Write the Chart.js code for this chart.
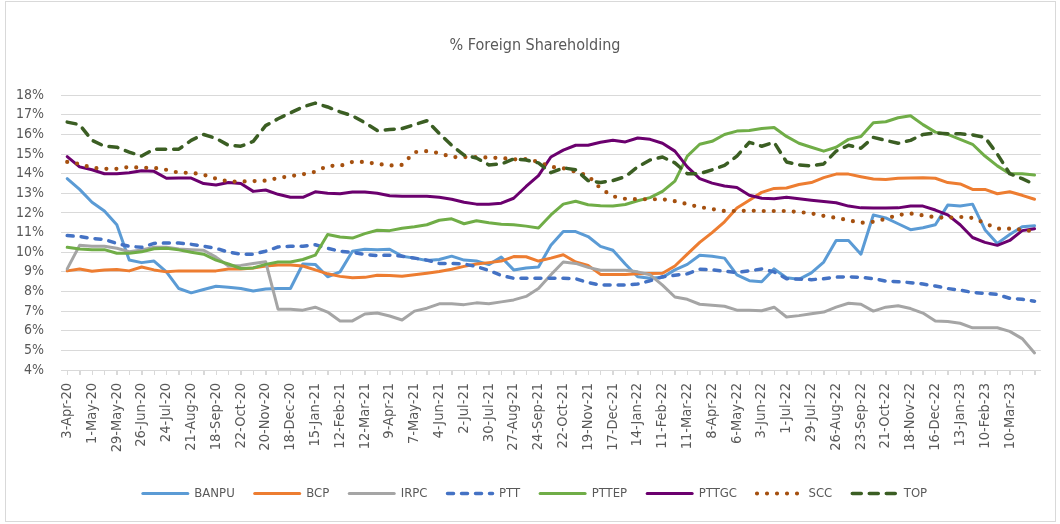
<!DOCTYPE html>
<html>
<head>
<meta charset="utf-8">
<title>% Foreign Shareholding</title>
<script src="https://cdn.jsdelivr.net/npm/chart.js@4.4.1/dist/chart.umd.min.js"></script>
<style>
    html, body { margin: 0; padding: 0; background: #ffffff; }
    #wrap { position: relative; width: 1060px; height: 524px; }
</style>
</head>
<body>
<div id="wrap"><canvas id="holdingchart" width="1060" height="524"></canvas></div>
<script>
"use strict";

/* fortnightly dates, every second one is shown on the axis */
var dates = [
    '3-Apr-20', '17-Apr-20', '1-May-20', '15-May-20', '29-May-20', '12-Jun-20', '26-Jun-20', '10-Jul-20',
    '24-Jul-20', '7-Aug-20', '21-Aug-20', '4-Sep-20', '18-Sep-20', '2-Oct-20', '22-Oct-20', '6-Nov-20',
    '20-Nov-20', '4-Dec-20', '18-Dec-20', '1-Jan-21', '15-Jan-21', '29-Jan-21', '12-Feb-21', '26-Feb-21',
    '12-Mar-21', '26-Mar-21', '9-Apr-21', '23-Apr-21', '7-May-21', '21-May-21', '4-Jun-21', '18-Jun-21',
    '2-Jul-21', '16-Jul-21', '30-Jul-21', '13-Aug-21', '27-Aug-21', '10-Sep-21', '24-Sep-21', '8-Oct-21',
    '22-Oct-21', '5-Nov-21', '19-Nov-21', '3-Dec-21', '17-Dec-21', '31-Dec-21', '14-Jan-22', '28-Jan-22',
    '11-Feb-22', '25-Feb-22', '11-Mar-22', '25-Mar-22', '8-Apr-22', '22-Apr-22', '6-May-22', '20-May-22',
    '3-Jun-22', '17-Jun-22', '1-Jul-22', '15-Jul-22', '29-Jul-22', '12-Aug-22', '26-Aug-22', '9-Sep-22',
    '23-Sep-22', '7-Oct-22', '21-Oct-22', '4-Nov-22', '18-Nov-22', '2-Dec-22', '16-Dec-22', '30-Dec-22',
    '13-Jan-23', '27-Jan-23', '10-Feb-23', '24-Feb-23', '10-Mar-23', '24-Mar-23', '7-Apr-23'
];

var tickLabels = [
    '3-Apr-20', '1-May-20', '29-May-20', '26-Jun-20', '24-Jul-20', '21-Aug-20', '18-Sep-20', '22-Oct-20',
    '20-Nov-20', '18-Dec-20', '15-Jan-21', '12-Feb-21', '12-Mar-21', '9-Apr-21', '7-May-21', '4-Jun-21',
    '2-Jul-21', '30-Jul-21', '27-Aug-21', '24-Sep-21', '22-Oct-21', '19-Nov-21', '17-Dec-21', '14-Jan-22',
    '11-Feb-22', '11-Mar-22', '8-Apr-22', '6-May-22', '3-Jun-22', '1-Jul-22', '29-Jul-22', '26-Aug-22',
    '23-Sep-22', '21-Oct-22', '18-Nov-22', '16-Dec-22', '13-Jan-23', '10-Feb-23', '10-Mar-23'
];

/* % foreign shareholding */
var banpu = [
    13.75, 13.2, 12.55, 12.1, 11.4, 9.6, 9.47, 9.55, 9.0, 8.15, 7.93, 8.1, 8.27,
    8.22, 8.15, 8.02, 8.13, 8.15, 8.15, 9.4, 9.38, 8.75, 9.0, 10.05, 10.15, 10.12,
    10.15, 9.8, 9.7, 9.58, 9.63, 9.8, 9.6, 9.55, 9.37, 9.75, 9.1, 9.2, 9.25, 10.35,
    11.05, 11.05, 10.8, 10.3, 10.1, 9.4, 8.75, 8.68, 8.72, 9.1, 9.38, 9.85, 9.8,
    9.7, 8.85, 8.55, 8.5, 9.15, 8.7, 8.62, 8.95, 9.5, 10.6, 10.6, 9.9, 11.9,
    11.75, 11.45, 11.15, 11.25, 11.4, 12.4, 12.35, 12.45, 11.15, 10.45, 10.9, 11.3, 11.35
];
var bcp = [
    9.05, 9.15, 9.03, 9.1, 9.12, 9.05, 9.25, 9.1, 9.0, 9.05, 9.05, 9.05, 9.05,
    9.15, 9.15, 9.2, 9.3, 9.35, 9.35, 9.3, 9.1, 8.9, 8.77, 8.7, 8.72, 8.83,
    8.82, 8.78, 8.85, 8.93, 9.02, 9.13, 9.28, 9.4, 9.47, 9.55, 9.78, 9.77, 9.55, 9.7,
    9.87, 9.5, 9.33, 8.87, 8.87, 8.87, 8.9, 8.92, 8.93, 9.3, 9.9, 10.5, 11.0,
    11.55, 12.25, 12.65, 13.05, 13.25, 13.27, 13.45, 13.55, 13.8, 13.98, 13.98, 13.85, 13.73,
    13.7, 13.77, 13.78, 13.8, 13.77, 13.55, 13.48, 13.2, 13.2, 12.98, 13.08, 12.9, 12.7
];
var irpc = [
    9.15, 10.35, 10.3, 10.3, 10.2, 10.03, 10.12, 10.25, 10.25, 10.17, 10.13, 10.1, 9.75,
    9.3, 9.33, 9.43, 9.52, 7.1, 7.1, 7.05, 7.2, 6.95, 6.5, 6.5, 6.85, 6.9,
    6.75, 6.55, 7.0, 7.15, 7.37, 7.37, 7.33, 7.42, 7.38, 7.47, 7.57, 7.75, 8.15, 8.85,
    9.5, 9.43, 9.23, 9.08, 9.08, 9.08, 9.0, 8.85, 8.32, 7.72, 7.6, 7.35, 7.3,
    7.25, 7.05, 7.05, 7.02, 7.2, 6.7, 6.77, 6.87, 6.95, 7.2, 7.4, 7.35, 7.0,
    7.2, 7.27, 7.13, 6.9, 6.5, 6.47, 6.38, 6.15, 6.15, 6.15, 5.97, 5.6, 4.87
];
var ptt = [
    10.85, 10.8, 10.7, 10.65, 10.45, 10.3, 10.25, 10.45, 10.47, 10.47, 10.4, 10.3, 10.2,
    10.0, 9.9, 9.9, 10.05, 10.27, 10.3, 10.3, 10.38, 10.2, 10.05, 10.0, 9.88, 9.83,
    9.85, 9.8, 9.7, 9.6, 9.43, 9.43, 9.4, 9.27, 9.07, 8.82, 8.67, 8.67, 8.67, 8.67,
    8.67, 8.65, 8.45, 8.33, 8.33, 8.33, 8.38, 8.55, 8.75, 8.83, 8.9, 9.13, 9.1,
    9.03, 8.97, 9.05, 9.15, 9.0, 8.65, 8.63, 8.6, 8.65, 8.73, 8.75, 8.72, 8.65,
    8.53, 8.5, 8.45, 8.38, 8.28, 8.15, 8.07, 7.95, 7.9, 7.85, 7.65, 7.6, 7.5
];
var pttep = [
    10.25, 10.17, 10.13, 10.13, 9.95, 9.95, 10.02, 10.18, 10.2, 10.12, 10.0, 9.9, 9.6,
    9.4, 9.17, 9.2, 9.38, 9.5, 9.5, 9.63, 9.85, 10.9, 10.78, 10.72, 10.95, 11.12,
    11.1, 11.22, 11.3, 11.4, 11.63, 11.7, 11.45, 11.6, 11.5, 11.43, 11.4, 11.33, 11.23, 11.9,
    12.45, 12.6, 12.42, 12.37, 12.35, 12.43, 12.62, 12.78, 13.1, 13.62, 14.9, 15.5, 15.65,
    16.0, 16.17, 16.2, 16.3, 16.35, 15.9, 15.55, 15.35, 15.15, 15.35, 15.75, 15.9, 16.6,
    16.65, 16.85, 16.95, 16.5, 16.12, 16.0, 15.75, 15.5, 14.9, 14.4, 14.0, 14.0, 13.93
];
var pttgc = [
    14.87, 14.35, 14.2, 14.0, 14.0, 14.05, 14.15, 14.12, 13.77, 13.78, 13.78, 13.5, 13.43,
    13.55, 13.5, 13.1, 13.17, 12.95, 12.8, 12.8, 13.08, 13.0, 12.98, 13.07, 13.07, 13.0,
    12.88, 12.85, 12.85, 12.85, 12.8, 12.7, 12.55, 12.45, 12.45, 12.5, 12.75, 13.35, 13.9, 14.85,
    15.2, 15.45, 15.45, 15.6, 15.7, 15.62, 15.82, 15.75, 15.55, 15.15, 14.35, 13.75, 13.52,
    13.37, 13.3, 12.9, 12.75, 12.72, 12.8, 12.72, 12.65, 12.58, 12.52, 12.35, 12.26, 12.25,
    12.25, 12.26, 12.35, 12.35, 12.15, 11.9, 11.4, 10.75, 10.5, 10.35, 10.6, 11.1, 11.2
];
var scc = [
    14.6, 14.5, 14.3, 14.25, 14.25, 14.35, 14.3, 14.3, 14.2, 14.05, 14.05, 13.95, 13.75,
    13.6, 13.6, 13.62, 13.65, 13.78, 13.88, 13.97, 14.1, 14.4, 14.4, 14.6, 14.6, 14.5,
    14.42, 14.45, 15.1, 15.15, 15.05, 14.85, 14.85, 14.85, 14.82, 14.8, 14.73, 14.75, 14.6, 14.35,
    14.28, 14.1, 13.9, 13.25, 12.85, 12.72, 12.7, 12.7, 12.7, 12.6, 12.45, 12.3, 12.2,
    12.1, 12.1, 12.12, 12.1, 12.1, 12.1, 12.05, 11.98, 11.85, 11.75, 11.63, 11.5, 11.55,
    11.7, 11.9, 11.97, 11.88, 11.78, 11.75, 11.8, 11.75, 11.48, 11.2, 11.2, 11.15, 11.05
];
var top_ = [
    16.63, 16.5, 15.7, 15.4, 15.35, 15.1, 14.9, 15.25, 15.25, 15.25, 15.7, 16.0, 15.8,
    15.45, 15.4, 15.65, 16.45, 16.8, 17.1, 17.4, 17.6, 17.4, 17.15, 16.95, 16.6, 16.2,
    16.25, 16.3, 16.5, 16.7, 16.05, 15.45, 14.95, 14.8, 14.45, 14.5, 14.75, 14.7, 14.55, 14.05,
    14.3, 14.2, 13.65, 13.55, 13.65, 13.85, 14.35, 14.7, 14.85, 14.55, 14.0, 14.0, 14.2,
    14.42, 14.9, 15.6, 15.4, 15.6, 14.6, 14.45, 14.4, 14.5, 15.15, 15.45, 15.3, 15.85,
    15.7, 15.55, 15.7, 16.0, 16.07, 16.03, 16.03, 15.98, 15.85, 15.0, 14.0, 13.75, 13.45
];

document.addEventListener("DOMContentLoaded", function () {
    var fontFamily = "'DejaVu Sans Condensed', 'Liberation Sans', Arial, sans-serif";
    var textColor = '#595959';
    var gridColor = '#d9d9d9';

    function series(label, data, color, extra) {
        var ds = {
            label: label,
            data: data,
            borderColor: color,
            backgroundColor: color,
            borderWidth: 3,
            pointRadius: 0,
            pointHoverRadius: 0,
            fill: false,
            tension: 0,
            borderCapStyle: 'round',
            borderJoinStyle: 'round'
        };
        for (var k in extra) { ds[k] = extra[k]; }
        return ds;
    }

    /* excel draws the last series on top, chart.js the first one */
    var datasets = [
        series('TOP', top_, '#3b5e23', { borderDash: [9, 8], borderWidth: 3.5 }),
        series('SCC', scc, '#a5500f', { borderDash: [0, 10], borderWidth: 4.2 }),
        series('PTTGC', pttgc, '#6b006e', {}),
        series('PTTEP', pttep, '#70ad47', {}),
        series('PTT', ptt, '#4472c4', { borderDash: [6, 8], borderWidth: 3.5 }),
        series('IRPC', irpc, '#a5a5a5', {}),
        series('BCP', bcp, '#ed7d31', {}),
        series('BANPU', banpu, '#5b9bd5', {})
    ];

    var frame = {
        id: 'frame',
        beforeDraw: function (chart) {
            var ctx = chart.ctx;
            ctx.save();
            ctx.fillStyle = '#ffffff';
            ctx.fillRect(0, 0, chart.width, chart.height);
            ctx.strokeStyle = gridColor;
            ctx.lineWidth = 1;
            ctx.strokeRect(5.5, 1.5, 1050, 520);
            ctx.restore();
        },
        /* small weekly tick marks under the category axis */
        afterDraw: function (chart) {
            var xs = chart.scales.x;
            var ctx = chart.ctx;
            ctx.save();
            ctx.strokeStyle = gridColor;
            ctx.lineWidth = 1;
            ctx.beginPath();
            for (var i = 0; i < dates.length; i++) {
                var px = Math.round(xs.getPixelForValue(i)) + 0.5;
                ctx.moveTo(px, xs.top);
                ctx.lineTo(px, xs.top + 5);
            }
            ctx.stroke();
            ctx.restore();
        }
    };

    var ctx = document.getElementById('holdingchart').getContext('2d');
    var holdingChart = new Chart(ctx, {
        type: 'line',
        data: {
            labels: dates,
            datasets: datasets
        },
        plugins: [frame],
        options: {
            responsive: false,
            animation: false,
            layout: {
                padding: { left: 17, right: 7, top: 0, bottom: 14 }
            },
            plugins: {
                title: {
                    display: true,
                    text: '% Foreign Shareholding',
                    color: textColor,
                    font: { family: fontFamily, size: 16, weight: 'normal' },
                    padding: { top: 36, bottom: 40 }
                },
                legend: {
                    position: 'bottom',
                    reverse: true,
                    labels: {
                        usePointStyle: true,
                        pointStyle: 'line',
                        pointStyleWidth: 45,
                        padding: 20,
                        color: textColor,
                        font: { family: fontFamily, size: 13 },
                        generateLabels: function (chart) {
                            var items = Chart.defaults.plugins.legend.labels.generateLabels(chart);
                            return items.map(function (item) {
                                var ds = chart.data.datasets[item.datasetIndex];
                                item.lineWidth = ds.borderWidth;
                                item.lineDash = ds.borderDash || [];
                                item.lineCap = ds.borderCapStyle;
                                item.strokeStyle = ds.borderColor;
                                item.pointStyle = 'line';
                                return item;
                            });
                        }
                    }
                },
                tooltip: { enabled: false }
            },
            scales: {
                x: {
                    offset: true,
                    afterFit: function (scale) { scale.height = 97; },
                    grid: {
                        drawOnChartArea: false,
                        drawTicks: true,
                        tickLength: 5,
                        color: gridColor
                    },
                    border: { display: true, color: gridColor },
                    ticks: {
                        autoSkip: false,
                        maxRotation: 90,
                        minRotation: 90,
                        padding: 8,
                        color: textColor,
                        font: { family: fontFamily, size: 14.5 },
                        callback: function (value) {
                            var label = this.getLabelForValue(value);
                            return tickLabels.indexOf(label) >= 0 ? label : '';
                        }
                    }
                },
                y: {
                    min: 4,
                    max: 18,
                    afterFit: function (scale) { scale.width = 44; },
                    grid: { color: gridColor, drawTicks: false },
                    border: { display: false },
                    ticks: {
                        autoSkip: false,
                        stepSize: 1,
                        padding: 17,
                        color: textColor,
                        font: { family: fontFamily, size: 14 },
                        callback: function (v) { return v + '%'; }
                    }
                }
            }
        }
    });
});
</script>
</body>
</html>
